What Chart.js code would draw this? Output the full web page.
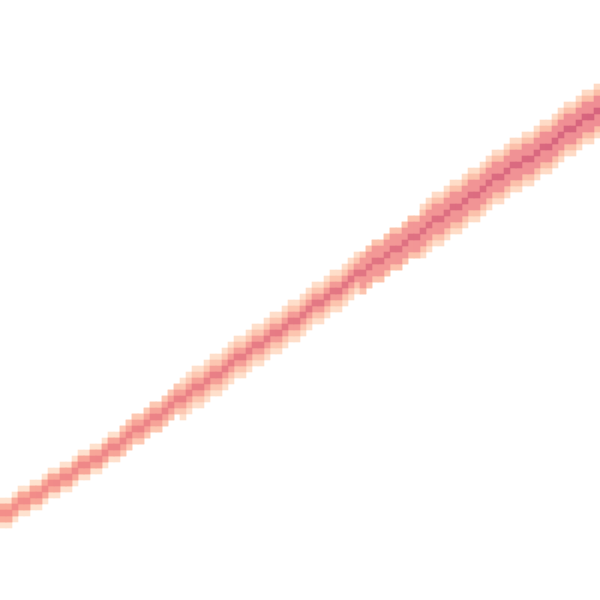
<!DOCTYPE html>
<html>
<head>
<meta charset="utf-8">
<script src="https://cdn.jsdelivr.net/npm/chart.js@4/dist/chart.umd.min.js"></script>
<style>
  html, body { margin: 0; padding: 0; background: #ffffff; }
  #wrap { width: 600px; height: 600px; position: relative; }
</style>
</head>
<body>
<div id="wrap"><canvas id="bandChart"></canvas></div>
<script>
// ==== grid: 100 columns x 100 rows, row 0 at the bottom ====
const columns = Array.from({ length: 100 }, (_, i) => i);

// row of the darkest cell in every column
const centreRow = [
  14, 14, 15, 16, 16, 17, 17, 18, 19, 19,
  20, 20, 21, 22, 22, 23, 23, 24, 25, 25,
  26, 27, 28, 28, 29, 30, 30, 31, 32, 33,
  33, 34, 35, 35, 36, 37, 37, 38, 39, 40,
  40, 41, 42, 42, 43, 44, 44, 45, 46, 46,
  47, 48, 49, 49, 50, 51, 51, 52, 53, 54,
  54, 55, 56, 56, 57, 58, 58, 59, 60, 60,
  61, 62, 63, 63, 64, 65, 65, 66, 67, 67,
  68, 69, 70, 70, 71, 72, 72, 73, 73, 74,
  75, 75, 76, 77, 78, 78, 79, 80, 80, 81
];

// how many cells each shade reaches above/below the centre, per block of 10 columns
const outerSpread  = [2, 2, 2, 3, 3, 3, 3, 4, 4, 4];
const peachSpread  = [1, 1, 2, 2, 2, 2, 3, 3, 3, 3];
const salmonSpread = [1, 1, 1, 1, 1, 1, 2, 2, 2, 2];
const coreSpread   = [0, 0, 0, 0, 0, 0, 0, 0, 0, 0];

// ==== colours: left end -> right end of the band ====
const shades = {
  outer:  [[254, 226, 207], [254, 218, 197]],
  peach:  [[253, 203, 182], [251, 190, 168]],
  salmon: [[249, 170, 153], [239, 142, 148]],
  core:   [[243, 142, 138], [214, 100, 126]]
};

function mix(pair, t) {
  const c = pair[0].map((v, k) => Math.round(v + (pair[1][k] - v) * t));
  return `rgb(${c[0]}, ${c[1]}, ${c[2]})`;
}

function bandLayer(spread, pair, order) {
  return {
    data: centreRow.map((c, i) => {
      const s = spread[Math.floor(i / 10)];
      return [c - s, c + 1 + s];
    }),
    backgroundColor: columns.map(i => mix(pair, i / (columns.length - 1))),
    borderWidth: 0,
    borderSkipped: false,
    barPercentage: 1,
    categoryPercentage: 1,
    grouped: false,
    order: order
  };
}

new Chart(document.getElementById("bandChart"), {
  type: "bar",
  data: {
    labels: columns,
    datasets: [
      bandLayer(outerSpread, shades.outer, 4),
      bandLayer(peachSpread, shades.peach, 3),
      bandLayer(salmonSpread, shades.salmon, 2),
      bandLayer(coreSpread, shades.core, 1)
    ]
  },
  options: {
    responsive: true,
    maintainAspectRatio: false,
    animation: false,
    layout: { padding: 0 },
    plugins: {
      legend: { display: false },
      tooltip: { enabled: false }
    },
    scales: {
      x: { display: false, grid: { display: false } },
      y: { display: false, min: 0, max: 100, grid: { display: false } }
    }
  }
});
</script>
</body>
</html>
